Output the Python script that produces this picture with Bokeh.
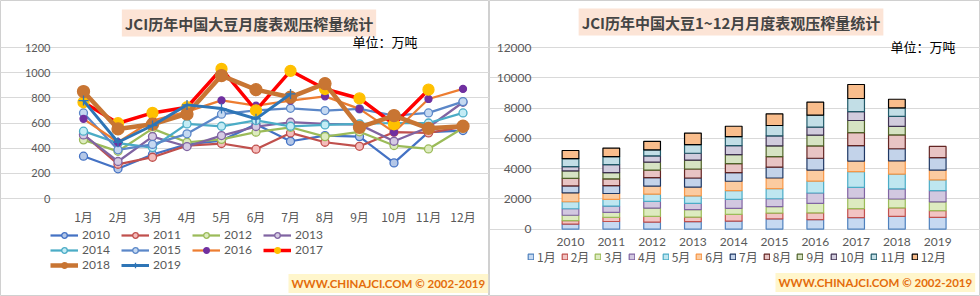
import numpy as np
from bokeh.plotting import figure
from bokeh.layouts import row
from bokeh.models import (Label, Legend, LegendItem, FixedTicker, Range1d, ColumnDataSource)
from bokeh.embed import file_html
from bokeh.resources import INLINE

# ---------------- data (万吨) ----------------
months = ["1月", "2月", "3月", "4月", "5月", "6月", "7月", "8月", "9月", "10月", "11月", "12月"]
years = ["2010", "2011", "2012", "2013", "2014", "2015", "2016", "2017", "2018", "2019"]
left_ticks = [0, 200, 400, 600, 800, 1000, 1200]
right_ticks = [0, 2000, 4000, 6000, 8000, 10000, 12000]

crush_2010 = [336, 236, 350, 430, 460, 590, 455, 500, 492, 283, 527, 540]
crush_2011 = [510, 272, 328, 420, 437, 392, 521, 447, 415, 527, 521, 570]
crush_2012 = [466, 375, 555, 447, 470, 527, 566, 492, 530, 421, 394, 560]
crush_2013 = [505, 294, 492, 413, 500, 572, 606, 593, 587, 455, 566, 765]
crush_2014 = [535, 440, 405, 593, 574, 620, 574, 585, 593, 600, 600, 680]
crush_2015 = [680, 387, 430, 514, 670, 700, 717, 699, 712, 659, 680, 770]
crush_2016 = [633, 447, 620, 690, 780, 738, 778, 812, 712, 527, 791, 871]
crush_2017 = [765, 598, 680, 725, 1030, 700, 1015, 870, 795, 590, 865, 925]
crush_2018 = [850, 553, 590, 672, 977, 865, 805, 913, 566, 659, 558, 574]
crush_2019 = [778, 447, 580, 744, 715, 633, 831, 740]

series = {"2010": crush_2010, "2011": crush_2011, "2012": crush_2012,
          "2013": crush_2013, "2014": crush_2014, "2015": crush_2015,
          "2016": crush_2016, "2017": crush_2017, "2018": crush_2018,
          "2019": crush_2019}
# months plotted in the monthly line chart (it stops earlier for these years)
line_months_shown = {"2017": 11, "2019": 7}

TITLE_L = "JCI历年中国大豆月度表观压榨量统计"
TITLE_R = "JCI历年中国大豆1~12月月度表观压榨量统计"
UNIT = "单位：万吨"
FOOTER = "WWW.CHINAJCI.COM © 2002-2019"

# category positions on the numeric x axes
month_pos = list(range(1, len(months) + 1))
year_pos = list(range(len(years)))

# ---------------- styles ----------------
line_style = {
    "2010": dict(color="#4472C4", mfill="#B4C7E7", mline="#4472C4", lw=2.25, ms=8, marker="circle"),
    "2011": dict(color="#C0504D", mfill="#F4BCBB", mline="#C0504D", lw=2.25, ms=8, marker="circle"),
    "2012": dict(color="#9BBB59", mfill="#DDEBBF", mline="#9BBB59", lw=2.25, ms=8, marker="circle"),
    "2013": dict(color="#8064A2", mfill="#D5CBE3", mline="#8064A2", lw=2.25, ms=8, marker="circle"),
    "2014": dict(color="#4BACC6", mfill="#C3ECF5", mline="#4BACC6", lw=2.25, ms=8, marker="circle"),
    "2015": dict(color="#5B87C8", mfill="#C5D9F1", mline="#5B87C8", lw=2.25, ms=8, marker="circle"),
    "2016": dict(color="#ED7D31", mfill="#7030A0", mline="#7030A0", lw=2.25, ms=7, marker="circle"),
    "2017": dict(color="#FF0000", mfill="#FFC000", mline="#FFC000", lw=3.5, ms=11, marker="circle"),
    "2018": dict(color="#C87533", mfill="#C87533", mline="#C87533", lw=4.5, ms=12, marker="circle"),
    "2019": dict(color="#2E75B6", mfill="#2E75B6", mline="#2E75B6", lw=3.0, ms=10, marker="cross"),
}
stack_fill = ["#C6D9F1", "#F2C4C3", "#DDEBC0", "#D2C8E0", "#BEE6F0", "#FBCBA0",
              "#C3D3EA", "#E8C4C4", "#D6E3C3", "#D1CCDD", "#C2DEE6", "#F9BD8C"]
stack_line = ["#4F81BD", "#C0504D", "#9BBB59", "#8064A2", "#4BACC6", "#F79646",
              "#1F3864", "#632523", "#4F6228", "#3F3151", "#215968", "#000000"]

GRID = "#D9D9D9"
TXT = "#595959"
CJK = "Noto Sans CJK SC"
NUM = "Lato"
TITLE_BG = "#FCE4D6"
FOOT_BG = "#FFF6CC"
FOOT_TXT = "#E46C0A"
PANEL_EDGE = "#D0D0D0"


def panel_figure(w, h, cat_px0, cat_step, zero_px_from_bottom, px_per_unit_y,
                 plot_left_px, plot_right_px, ticks, tick_pos, tick_labels):
    """Figure whose frame is the whole panel; the data scales are set so the
    plot area lands where it sits in the original picture."""
    x0 = -cat_px0 / cat_step + tick_pos[0]
    x1 = x0 + w / cat_step
    y0 = -zero_px_from_bottom / px_per_unit_y
    y1 = y0 + h / px_per_unit_y
    p = figure(frame_width=w, frame_height=h, x_range=Range1d(x0, x1), y_range=Range1d(y0, y1),
               output_backend="svg", toolbar_location=None, min_border=0,
               background_fill_color="white", border_fill_color="white")
    p.outline_line_color = PANEL_EDGE
    p.outline_line_width = 1
    p.xgrid.grid_line_color = None
    p.ygrid.grid_line_color = GRID
    p.ygrid.grid_line_width = 1
    p.ygrid.bounds = (x0 + plot_left_px / cat_step, x0 + plot_right_px / cat_step)
    p.yaxis.ticker = FixedTicker(ticks=ticks)
    p.xaxis.ticker = FixedTicker(ticks=tick_pos)
    p.xaxis.major_label_overrides = {t: lab for t, lab in zip(tick_pos, tick_labels)}
    p.xaxis.fixed_location = 0
    p.yaxis.fixed_location = x0 + plot_left_px / cat_step
    for ax in (p.xaxis, p.yaxis):
        ax.axis_line_color = None
        ax.major_tick_line_color = None
        ax.minor_tick_line_color = None
        ax.major_tick_out = 0
        ax.minor_tick_out = 0
        ax.major_tick_in = 0
        ax.minor_tick_in = 0
        ax.major_label_text_color = TXT
    return p


def title_label(x, y, text):
    return Label(x=x, y=y, x_units="screen", y_units="screen", text=text, text_font=CJK,
                 text_font_style="bold", text_font_size="15px", text_align="center",
                 text_baseline="middle", background_fill_color=TITLE_BG, padding=3)


def unit_label(x, y):
    return Label(x=x, y=y, x_units="screen", y_units="screen", text=UNIT, text_font=CJK,
                 text_font_size="13px", text_align="left", text_baseline="middle",
                 text_color="black")


def footer_label(x, y):
    return Label(x=x, y=y, x_units="screen", y_units="screen", text=FOOTER, text_font=NUM,
                 text_font_style="bold", text_font_size="11.5px", text_color=FOOT_TXT,
                 text_align="left", text_baseline="middle",
                 background_fill_color=FOOT_BG, padding=3)


# ================= left panel =================
left = panel_figure(489, 296, cat_px0=83, cat_step=34.5, zero_px_from_bottom=98,
                    px_per_unit_y=151 / 1200, plot_left_px=64, plot_right_px=481,
                    ticks=left_ticks, tick_pos=month_pos, tick_labels=months)
left.yaxis.major_label_text_font = NUM
left.yaxis.major_label_text_font_size = "11px"
left.yaxis.major_label_standoff = 14
left.xaxis.major_label_text_font = CJK
left.xaxis.major_label_text_font_size = "12px"
left.xaxis.major_label_standoff = 9

items = []
for yr in years:
    n = line_months_shown.get(yr, len(series[yr]))
    st = line_style[yr]
    src = ColumnDataSource(dict(m=month_pos[:n], v=series[yr][:n]))
    lr = left.line("m", "v", source=src, line_color=st["color"], line_width=st["lw"])
    sr = left.scatter("m", "v", source=src, marker=st["marker"], size=st["ms"],
                      fill_color=st["mfill"], line_color=st["mline"], line_width=1.3)
    items.append(LegendItem(label=yr, renderers=[lr, sr]))

left.add_layout(Legend(items=items, location=(50, 24), orientation="horizontal", ncols=4,
                       glyph_width=28, glyph_height=14, label_height=14, label_width=39,
                       label_standoff=4, spacing=0, padding=0, margin=0,
                       label_text_font=NUM, label_text_font_size="12px",
                       label_text_color=TXT, background_fill_alpha=0,
                       border_line_color=None))
left.add_layout(title_label(248.5, 273.5, TITLE_L))
left.add_layout(unit_label(352, 255))
left.add_layout(footer_label(288, 13))

# ================= right panel =================
stack_src = {"x": year_pos}
for i, m in enumerate(months):
    stack_src[m] = np.array([series[y][i] if i < len(series[y]) else np.nan for y in years],
                            dtype=float)

right = panel_figure(491, 296, cat_px0=81, cat_step=40.8, zero_px_from_bottom=67.3,
                     px_per_unit_y=181.7 / 12000, plot_left_px=60, plot_right_px=470,
                     ticks=right_ticks, tick_pos=year_pos, tick_labels=years)
right.yaxis.major_label_text_font = NUM
right.yaxis.major_label_text_font_size = "12px"
right.yaxis.major_label_standoff = 18
right.xaxis.major_label_text_font = NUM
right.xaxis.major_label_text_font_size = "12px"
right.xaxis.major_label_standoff = 9

rs = right.vbar_stack(months, x="x", width=0.41, source=ColumnDataSource(stack_src),
                      fill_color=stack_fill, line_color=stack_line, line_width=1.2)
right.add_layout(Legend(items=[LegendItem(label=m, renderers=[r]) for m, r in zip(months, rs)],
                        location=(38, 31), orientation="horizontal",
                        glyph_width=7, glyph_height=7, label_height=14, label_width=0,
                        label_standoff=3, spacing=5, padding=0, margin=0,
                        label_text_font=CJK, label_text_font_size="12px",
                        label_text_color=TXT, background_fill_alpha=0,
                        border_line_color=None))
right.add_layout(title_label(241.5, 274.5, TITLE_R))
right.add_layout(unit_label(401, 250))
right.add_layout(footer_label(286, 14))

layout = row(left, right, spacing=0)
open("out.html", "w").write(file_html(layout, INLINE))
